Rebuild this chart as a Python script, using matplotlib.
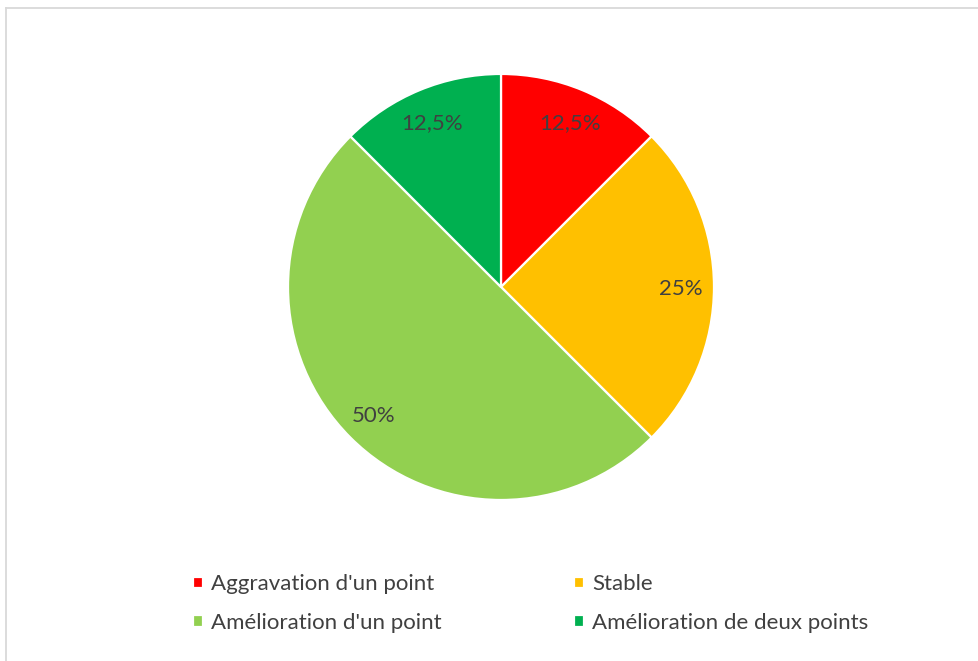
import numpy as np
import matplotlib.pyplot as plt
from matplotlib.lines import Line2D

categories = ["Aggravation d'un point", "Stable", "Amélioration d'un point", "Amélioration de deux points"]
shares = [12.5, 25, 50, 12.5]
pct_labels = ["12,5%", "25%", "50%", "12,5%"]
colors = ["#FF0000", "#FFC000", "#92D050", "#00B050"]

plt.rcParams['font.family'] = ['Lato', 'DejaVu Sans']
text_col = "#404040"

fig = plt.figure(figsize=(9.79, 6.61), dpi=100)
ax = fig.add_axes([0.2942, 0.2436, 0.4351, 0.6445])

wedges, _ = ax.pie(shares, colors=colors, startangle=90, counterclock=False,
                   wedgeprops=dict(edgecolor="white", linewidth=1.6), radius=1)
ax.set_xlim(-1, 1)
ax.set_ylim(-1, 1)
ax.set_aspect("auto")
ax.axis("off")

# percentage labels at the middle of each wedge
for w, lab in zip(wedges, pct_labels):
    ang = np.deg2rad((w.theta1 + w.theta2) / 2)
    ax.text(0.845 * np.cos(ang), 0.845 * np.sin(ang), lab, ha="center", va="center_baseline",
            fontsize=16, color=text_col)

# legend filled row by row: two per row
order = [0, 2, 1, 3]
leg = fig.legend([wedges[i] for i in order], [categories[i] for i in order], ncol=2,
                 loc="upper left", bbox_to_anchor=(0.197, 0.131), frameon=False, fontsize=16,
                 labelcolor=text_col, handlelength=0.45, handleheight=0.45, handletextpad=0.35,
                 columnspacing=5.98, labelspacing=0.82, borderpad=0, borderaxespad=0)

# chart frame
fig.add_artist(Line2D([0.0066, 1.0], [0.9875, 0.9875], transform=fig.transFigure, color="#D9D9D9", lw=1.3))
fig.add_artist(Line2D([0.0066, 0.0066], [0.0, 0.9875], transform=fig.transFigure, color="#D9D9D9", lw=1.3))

fig.savefig("out.png", dpi=100)
